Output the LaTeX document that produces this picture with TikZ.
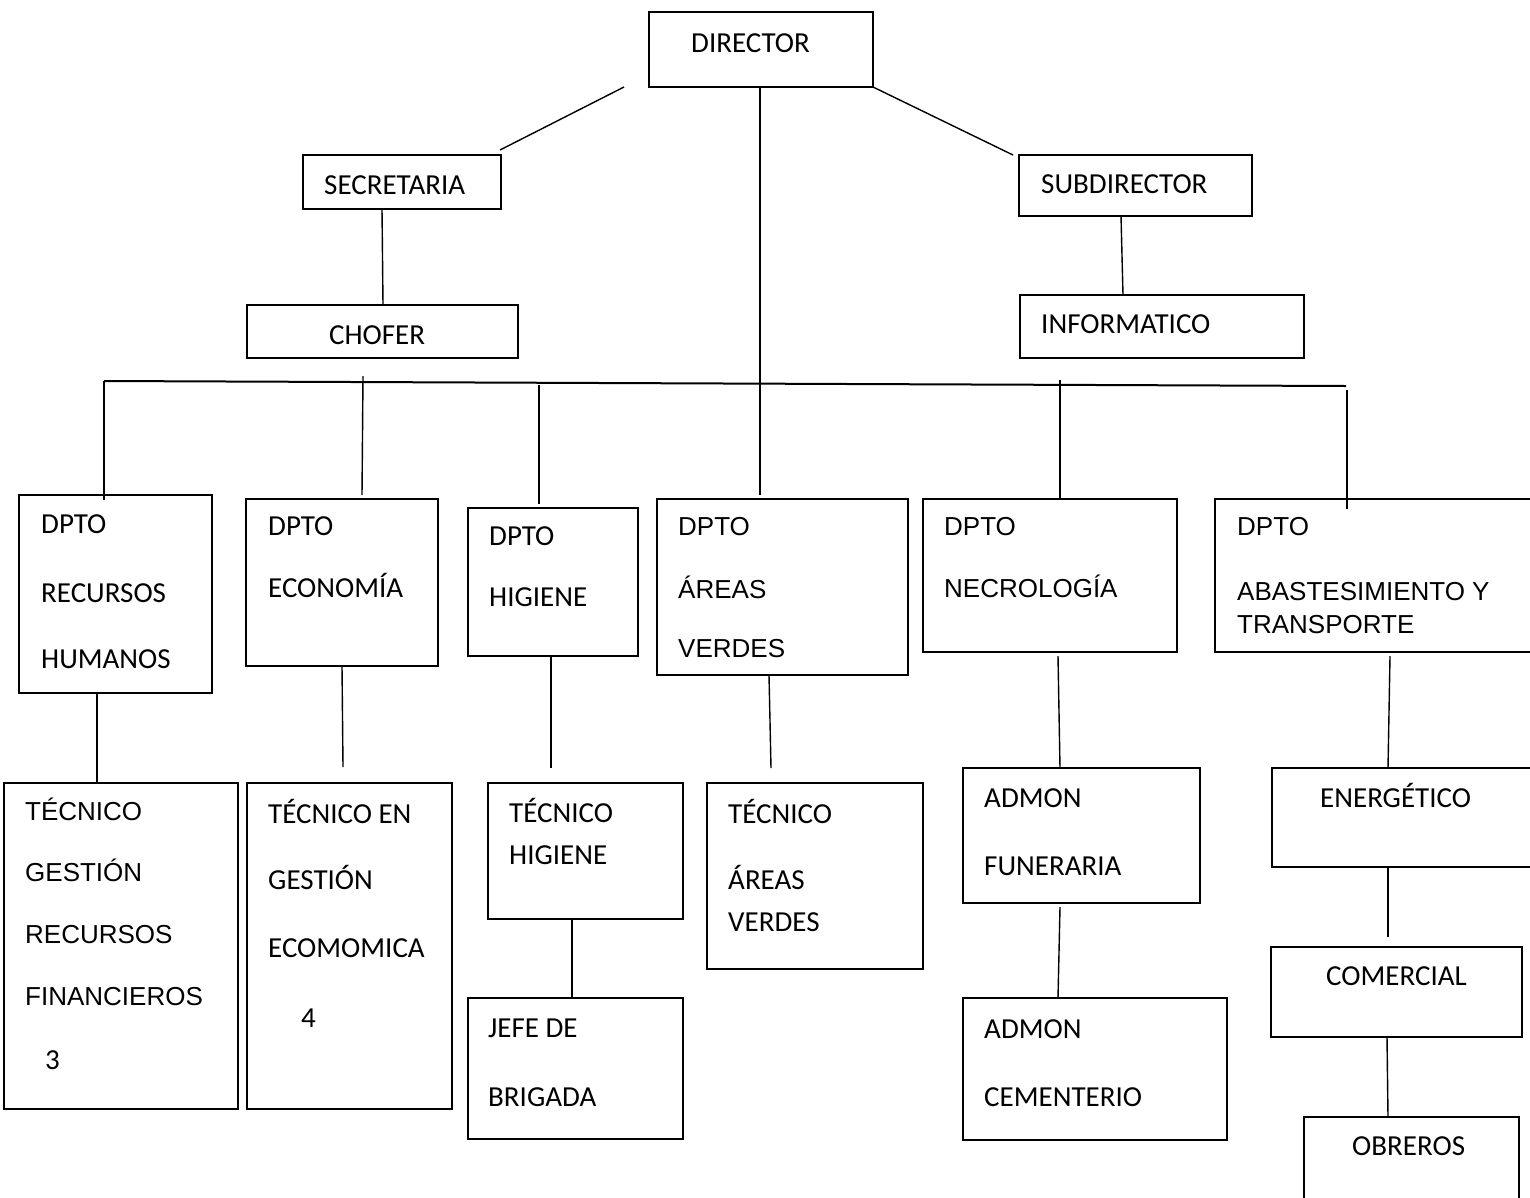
\documentclass[tikz,border=0pt]{standalone}
\usepackage{fontspec}
\newfontfamily\calf{Carlito}
\newfontfamily\arif{Liberation Sans}
\begin{document}
\begin{tikzpicture}[x=1pt,y=-1pt,
  box/.style={draw, line width=1.7pt, inner sep=0pt, outer sep=0pt, anchor=north west, fill=none},
  link/.style={line width=1.4pt},
  bus/.style={line width=2pt},
  calT/.style={font=\calf\fontsize{29}{31}\selectfont, anchor=base west, inner sep=0pt},
  ariT/.style={font=\arif\fontsize{26}{28}\selectfont, anchor=base west, inner sep=0pt}]
\useasboundingbox (0,0) rectangle (1530,1197);
\clip (0,0) rectangle (1530,1197);
\fill[white] (0,0) rectangle (1530,1197);
% boxes
\newcommand\bx[5]{\node[box, minimum width=#4pt-#2pt, minimum height=#5pt-#3pt] (#1) at (#2,#3) {};}
\bx{dir}{649}{12}{873}{87}
\bx{sec}{303}{155}{501}{209}
\bx{cho}{247}{305}{518}{358}
\bx{sub}{1019}{155}{1252}{216}
\bx{inf}{1020}{295}{1304}{358}
\bx{dA}{19}{495}{212}{693}
\bx{dB}{246}{499}{438}{666}
\bx{dC}{468}{508}{638}{656}
\bx{dD}{657}{499}{908}{675}
\bx{dE}{923}{499}{1177}{652}
\bx{dF}{1215}{499}{1560}{652}
\bx{tA}{4}{783}{238}{1109}
\bx{tB}{247}{783}{452}{1109}
\bx{tC}{488}{783}{683}{919}
\bx{tD}{707}{783}{923}{969}
\bx{tE}{963}{768}{1200}{903}
\bx{tF}{1272}{768}{1560}{867}
\bx{jC}{468}{998}{683}{1139}
\bx{cE}{963}{998}{1227}{1140}
\bx{mF}{1271}{947}{1522}{1037}
\bx{oF}{1304}{1117}{1519}{1230}
% texts
\node[calT] (x1) at (691,52) {DIRECTOR};
\node[calT] (x2) at (324,194) {SECRETARIA};
\node[calT] (x3) at (329,344) {CHOFER};
\node[calT] (x4) at (1041,193) {SUBDIRECTOR};
\node[calT] (x5) at (1041,333) {INFORMATICO};
\node[calT] (a1) at (41,533) {DPTO};
\node[calT] (a2) at (41,602) {RECURSOS};
\node[calT] (a3) at (41,668) {HUMANOS};
\node[calT] (b1) at (268,535) {DPTO};
\node[calT] (b2) at (268,597) {ECONOMÍA};
\node[calT] (c1) at (489,545) {DPTO};
\node[calT] (c2) at (489,606) {HIGIENE};
\node[ariT] (d1) at (678,535) {DPTO};
\node[ariT] (d2) at (678,598) {ÁREAS};
\node[ariT] (d3) at (678,657) {VERDES};
\node[ariT] (e1) at (944,535) {DPTO};
\node[ariT] (e2) at (944,597) {NECROLOGÍA};
\node[ariT] (f1) at (1237,535) {DPTO};
\node[ariT] (f2) at (1237,600) {ABASTESIMIENTO Y};
\node[ariT] (f3) at (1237,633) {TRANSPORTE};
\node[ariT] (g1) at (25,820) {TÉCNICO};
\node[ariT] (g2) at (25,881) {GESTIÓN};
\node[ariT] (g3) at (25,943) {RECURSOS};
\node[ariT] (g4) at (25,1005) {FINANCIEROS};
\node[calT] (g5) at (45,1069) {3};
\node[calT] (h1) at (268,823) {TÉCNICO EN};
\node[calT] (h2) at (268,889) {GESTIÓN};
\node[calT] (h3) at (268,957) {ECOMOMICA};
\node[calT] (h4) at (301,1027) {4};
\node[calT] (i1) at (509,822) {TÉCNICO};
\node[calT] (i2) at (509,864) {HIGIENE};
\node[calT] (j1) at (488,1037) {JEFE DE};
\node[calT] (j2) at (488,1106) {BRIGADA};
\node[calT] (k1) at (728,823) {TÉCNICO};
\node[calT] (k2) at (728,889) {ÁREAS};
\node[calT] (k3) at (728,931) {VERDES};
\node[calT] (l1) at (984,807) {ADMON};
\node[calT] (l2) at (984,875) {FUNERARIA};
\node[calT] (m1) at (984,1038) {ADMON};
\node[calT] (m2) at (984,1106) {CEMENTERIO};
\node[calT] (n1) at (1320,807) {ENERGÉTICO};
\node[calT] (n2) at (1326,985) {COMERCIAL};
\node[calT] (n3) at (1352,1155) {OBREROS};
% connector end points
\coordinate (p1) at (624,87);   \coordinate (p2) at (500,150);
\coordinate (p3) at (1013,155);
\coordinate (p4) at (760,87);   \coordinate (p5) at (760,495);
\coordinate (p6) at (382,209);  \coordinate (p7) at (383,305);
\coordinate (p8) at (1121,216); \coordinate (p9) at (1123,295);
\coordinate (bL) at (104,381);  \coordinate (bR) at (1346,386);
\coordinate (q1) at (104,500);
\coordinate (q2) at (363,376);  \coordinate (q3) at (362,495);
\coordinate (q4) at (539,385);  \coordinate (q5) at (539,504);
\coordinate (q6) at (1060,380); \coordinate (q7) at (1060,499);
\coordinate (q8) at (1347,390); \coordinate (q9) at (1347,509);
\coordinate (r1) at (97,693);   \coordinate (r2) at (97,783);
\coordinate (r3) at (342,666);  \coordinate (r4) at (343,767);
\coordinate (r5) at (551,656);  \coordinate (r6) at (551,768);
\coordinate (r7) at (769,675);  \coordinate (r8) at (771,768);
\coordinate (s1) at (1058,656); \coordinate (s2) at (1060,768);
\coordinate (s3) at (1390,656); \coordinate (s4) at (1388,768);
\coordinate (s5) at (572,919);  \coordinate (s6) at (572,998);
\coordinate (s7) at (1060,907); \coordinate (s8) at (1058,998);
\coordinate (s9) at (1388,867); \coordinate (u1) at (1388,937);
\coordinate (u2) at (1387,1037);\coordinate (u3) at (1388,1117);
% connectors
\draw[link] (p1) -- (p2);
\draw[link] (dir.south east) -- (p3);
\draw[link] (p4) -- (p5);
\draw[link] (p6) -- (p7);
\draw[link] (p8) -- (p9);
\draw[bus] (bL) -- (bR);
\draw[link] (bL) -- (q1);
\draw[link] (q2) -- (q3);
\draw[link] (q4) -- (q5);
\draw[link] (q6) -- (q7);
\draw[link] (q8) -- (q9);
\draw[link] (r1) -- (r2);
\draw[link] (r3) -- (r4);
\draw[link] (r5) -- (r6);
\draw[link] (r7) -- (r8);
\draw[link] (s1) -- (s2);
\draw[link] (s3) -- (s4);
\draw[link] (s5) -- (s6);
\draw[link] (s7) -- (s8);
\draw[link] (s9) -- (u1);
\draw[link] (u2) -- (u3);
\end{tikzpicture}
\end{document}
